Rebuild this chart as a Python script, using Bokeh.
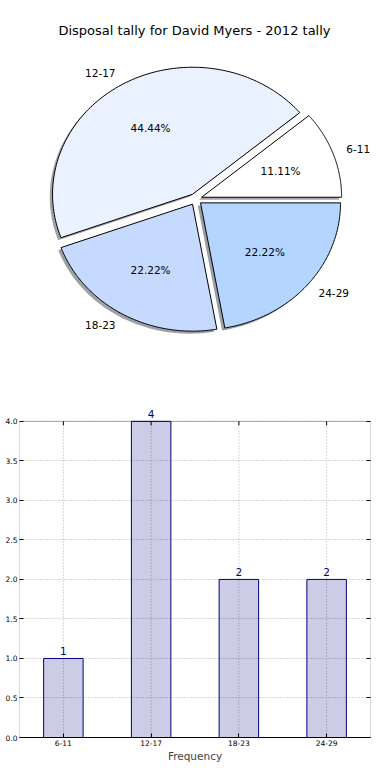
import numpy as np
from bokeh.plotting import figure
from bokeh.layouts import column
from bokeh.core.properties import value
from bokeh.models import (Range1d, FactorRange, ColumnDataSource, LabelSet, Label,
                          FixedTicker, PrintfTickFormatter, LinearAxis, BoxAnnotation,
                          CustomJSTickFormatter)
from bokeh.embed import file_html
from bokeh.resources import INLINE

# ---------------- data ----------------
title_text = "Disposal tally for David Myers - 2012 tally"
categories = ["6-11", "12-17", "18-23", "24-29"]
counts = [1, 4, 2, 2]
pie_colors = ["#FFFFFF", "#EBF2FF", "#C6D9FF", "#B3D5FF"]
y_ticks = [0.0, 0.5, 1.0, 1.5, 2.0, 2.5, 3.0, 3.5, 4.0]
y_max = 4.0
x_label = "Frequency"

FONT = "DejaVu Sans"
BL, BR = 19, 4                 # left / right borders shared by both figures

# ---------------- pie ----------------
W1, H1 = 374, 390
RX, RY = 140.0, 127.0          # pixels per data unit (pie is elliptical)
CX, CY = 195.2, 198.7          # pie centre in figure pixels (from top-left)
EXPLODE = 0.045
SHADOW = 0.02

def px_to_x(px):
    return (px - CX) / RX

def py_to_y(py):
    return (CY - py) / RY

p1 = figure(width=W1, height=H1, x_range=Range1d(px_to_x(BL), px_to_x(W1 - BR)),
            y_range=Range1d(py_to_y(H1), py_to_y(0)), x_axis_type=None, y_axis_type=None,
            toolbar_location=None, output_backend="svg",
            min_border_left=BL, min_border_right=BR, min_border_top=0, min_border_bottom=0)
p1.outline_line_color = None
p1.grid.visible = False
p1.background_fill_color = "white"
p1.border_fill_color = "white"

total = float(sum(counts))
fracs = [c / total for c in counts]
theta_start = 0.0
lab_x, lab_y, lab_t, lab_align = [], [], [], []
pct_x, pct_y, pct_t = [], [], []
for cat, frac, col in zip(categories, fracs, pie_colors):
    t1 = theta_start
    t2 = theta_start + 2 * np.pi * frac
    tm = 0.5 * (t1 + t2)
    ox, oy = EXPLODE * np.cos(tm), EXPLODE * np.sin(tm)
    arc = np.linspace(t1, t2, 120)
    xs = np.concatenate([[ox], ox + np.cos(arc), [ox]])
    ys = np.concatenate([[oy], oy + np.sin(arc), [oy]])
    r, g, b = int(col[1:3], 16), int(col[3:5], 16), int(col[5:7], 16)
    shade = "#%02x%02x%02x" % (int(r * 0.3), int(g * 0.3), int(b * 0.3))
    p1.patch(xs - SHADOW, ys - SHADOW, fill_color=shade, fill_alpha=0.5, line_color=None)
    p1.patch(xs, ys, fill_color=col, line_color="black", line_width=1)
    lx = ox + 1.1 * np.cos(tm)
    ly = oy + 1.1 * np.sin(tm)
    lab_x.append(lx); lab_y.append(ly); lab_t.append(cat)
    lab_align.append("left" if lx > 0 else "right")
    pct_x.append(ox + 0.6 * np.cos(tm)); pct_y.append(oy + 0.6 * np.sin(tm))
    pct_t.append("%.2f%%" % (frac * 100))
    theta_start = t2

for align in ("left", "right"):
    idx = [i for i, a in enumerate(lab_align) if a == align]
    src = ColumnDataSource(dict(x=[lab_x[i] for i in idx], y=[lab_y[i] for i in idx],
                                t=[lab_t[i] for i in idx]))
    p1.add_layout(LabelSet(x="x", y="y", text="t", source=src, text_align=align,
                           text_baseline="middle", text_font=value(FONT),
                           text_font_size=value("10.5px"), text_color="black"))
p1.add_layout(LabelSet(x="x", y="y", text="t",
                       source=ColumnDataSource(dict(x=pct_x, y=pct_y, t=pct_t)),
                       text_align="center", text_baseline="middle", text_font=value(FONT),
                       text_font_size=value("10.5px"), text_color="black"))
p1.add_layout(Label(x=px_to_x(194), y=py_to_y(30), text=title_text, text_align="center",
                    text_baseline="middle", text_font=FONT, text_font_size="13px",
                    text_color="black"))

# ---------------- bar ----------------
W2, H2 = 374, 374
TOP_PAD = 16                   # room above the box for the value labels (pixels)
BOX_TOP = 31                   # box top, pixels from figure top
BOX_BOTTOM = 24                # space under the box, pixels
frame_h = H2 - (BOX_TOP - TOP_PAD) - BOX_BOTTOM
px_per_unit = (frame_h - TOP_PAD) / y_max
y_end = y_max + TOP_PAD / px_per_unit

p2 = figure(width=W2, height=H2, x_range=FactorRange(*categories), y_range=Range1d(0, y_end),
            toolbar_location=None, output_backend="svg",
            min_border_left=BL, min_border_right=BR, min_border_top=BOX_TOP - TOP_PAD,
            min_border_bottom=BOX_BOTTOM)
p2.background_fill_color = "white"
p2.border_fill_color = "white"
p2.outline_line_color = None

src_bar = ColumnDataSource(dict(cat=categories, val=counts, lbl=[str(c) for c in counts]))

# grid
p2.xgrid.visible = False
p2.ygrid.ticker = FixedTicker(ticks=y_ticks)
p2.ygrid.grid_line_color = "#b0b0b0"
p2.ygrid.grid_line_dash = "1 2"
p2.segment(x0=categories, y0=[0] * len(categories), x1=categories,
           y1=[y_max] * len(categories), line_color="#b0b0b0", line_dash="1 2", line_width=1)

p2.vbar(x="cat", top="val", width=0.45, source=src_bar, fill_color="navy", fill_alpha=0.2,
        line_color="navy", line_width=1)
p2.add_layout(LabelSet(x="cat", y="val", text="lbl", source=src_bar, y_offset=3,
                       text_align="center", text_baseline="bottom", text_font=value(FONT),
                       text_font_size=value("10.5px"), text_color="navy"))

# top tick marks (inside the box)
tick_len = 4 / px_per_unit
p2.segment(x0=categories, y0=[y_max] * len(categories), x1=categories,
           y1=[y_max - tick_len] * len(categories), line_color="black", line_width=1)

# box (axes frame) from 0 to y_max
p2.add_layout(BoxAnnotation(bottom=0, top=y_max, fill_alpha=0, line_color="black",
                            line_width=1, level="overlay"))

yax = p2.yaxis[0]
yax.ticker = FixedTicker(ticks=y_ticks)
yax.formatter = PrintfTickFormatter(format="%.1f")
xax = p2.xaxis[0]
for ax in (yax, xax):
    ax.major_tick_in = 4
    ax.major_tick_out = 0
    ax.minor_tick_in = 0
    ax.minor_tick_out = 0
    ax.major_label_text_font = FONT
    ax.major_label_text_font_size = "7.5px"
    ax.major_label_text_color = "black"
    ax.major_tick_line_color = "black"
yax.axis_line_color = None
xax.axis_line_color = "black"
yax.major_label_standoff = 2
xax.major_label_standoff = 2
xax.axis_label = x_label
xax.axis_label_text_font = FONT
xax.axis_label_text_font_style = "normal"
xax.axis_label_text_font_size = "10.5px"
xax.axis_label_standoff = 1

blank = CustomJSTickFormatter(code="return ''")
rax = LinearAxis(ticker=FixedTicker(ticks=y_ticks), formatter=blank, major_tick_in=4,
                 major_tick_out=0, minor_tick_in=0, minor_tick_out=0, axis_line_color=None,
                 major_label_standoff=0, major_label_text_font_size="1px")
p2.add_layout(rax, "right")

layout = column(p1, p2)
open("out.html", "w").write(file_html(layout, INLINE))
